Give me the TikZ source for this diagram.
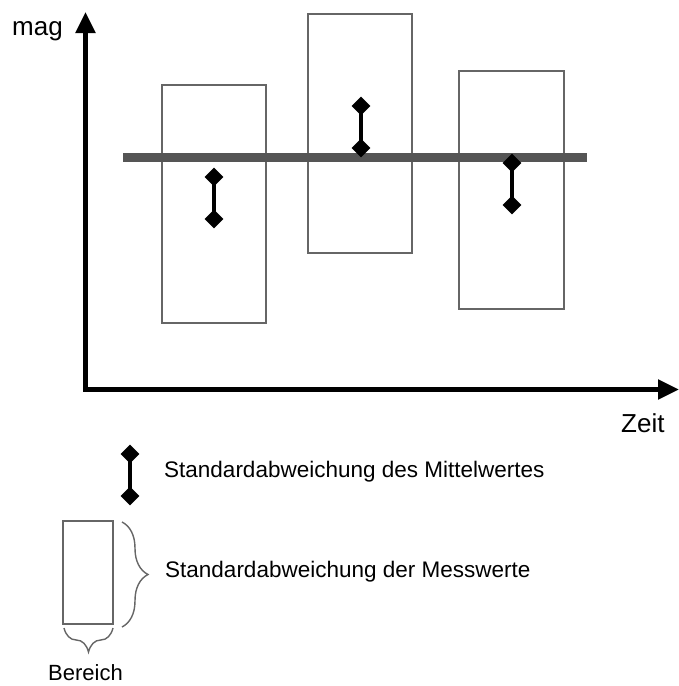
\documentclass[tikz,border=0pt]{standalone}
\usepackage{fontspec}
\setmainfont{Liberation Sans}
\usetikzlibrary{arrows.meta,shapes.geometric,decorations.pathreplacing}
\definecolor{bargray}{HTML}{555555}
\definecolor{boxgray}{HTML}{666666}
\tikzset{
  x=1pt,y=-1pt,
  axis/.style={line width=5pt,line cap=rect,-{Triangle[length=21pt,width=19pt]}},
  rangebox/.style={draw=boxgray,line width=1.6pt,rectangle,inner sep=0pt,minimum width=104pt,minimum height=238pt},
  dia/.style={diamond,fill=black,inner sep=0pt,minimum width=19pt,minimum height=19pt},
  errbar/.style={line width=4pt},
  meanbar/.style={draw=bargray,line width=9pt},
  lbl/.style={inner sep=0pt,anchor=base west,font=\fontsize{22.5}{26}\selectfont},
  axlbl/.style={inner sep=0pt,anchor=base west,font=\fontsize{26}{30}\selectfont},
  brc/.style={draw=boxgray,line width=1.4pt,decorate,decoration={brace,amplitude=26pt}}
}
\begin{document}
\begin{tikzpicture}
\useasboundingbox (0,0) rectangle (679,686);
% boxes
\node[rangebox] (b1) at (214,204) {};
\node[rangebox,minimum height=239pt] (b2) at (360,133.5) {};
\node[rangebox,minimum width=105pt] (b3) at (511.5,190) {};
% mean bar
\coordinate (ml) at (123,157.5);
\coordinate (mr) at (587,157.5);
\draw[meanbar] (ml) -- (mr);
% axes
\coordinate (o) at (85.5,389.5);
\coordinate (ytip) at (85.5,12);
\coordinate (xtip) at (679,389.5);
\draw[axis] (o) -- (ytip);
\draw[axis] (o) -- (xtip);
\node[axlbl] (mag) at (12,35) {mag};
\node[axlbl] (zeit) at (621,432) {Zeit};
% error bars
\node[dia] (e1a) at (214,177) {};
\node[dia] (e1b) at (214,219) {};
\draw[errbar] (e1a.center) -- (e1b.center);
\node[dia] (e2a) at (361,106) {};
\node[dia] (e2b) at (361,148) {};
\draw[errbar] (e2a.center) -- (e2b.center);
\node[dia] (e3a) at (512,163) {};
\node[dia] (e3b) at (512,205) {};
\draw[errbar] (e3a.center) -- (e3b.center);
% legend
\node[dia] (la) at (130,454) {};
\node[dia] (lb) at (130,496) {};
\draw[errbar] (la.center) -- (lb.center);
\node[lbl] (t1) at (164,477) {Standardabweichung des Mittelwertes};
\node[rangebox,minimum width=50pt,minimum height=103pt] (lbox) at (88,572.5) {};
\coordinate (br1) at (122,522);
\coordinate (br2) at (122,627);
\draw[brc] (br1) -- (br2);
\node[lbl] (t2) at (165,577) {Standardabweichung der Messwerte};
\coordinate (bb1) at (113,628);
\coordinate (bb2) at (64,628);
\draw[brc,decoration={brace,amplitude=24pt}] (bb1) -- (bb2);
\node[lbl,font=\fontsize{22}{26}\selectfont] (t3) at (48,680) {Bereich};
\end{tikzpicture}
\end{document}
